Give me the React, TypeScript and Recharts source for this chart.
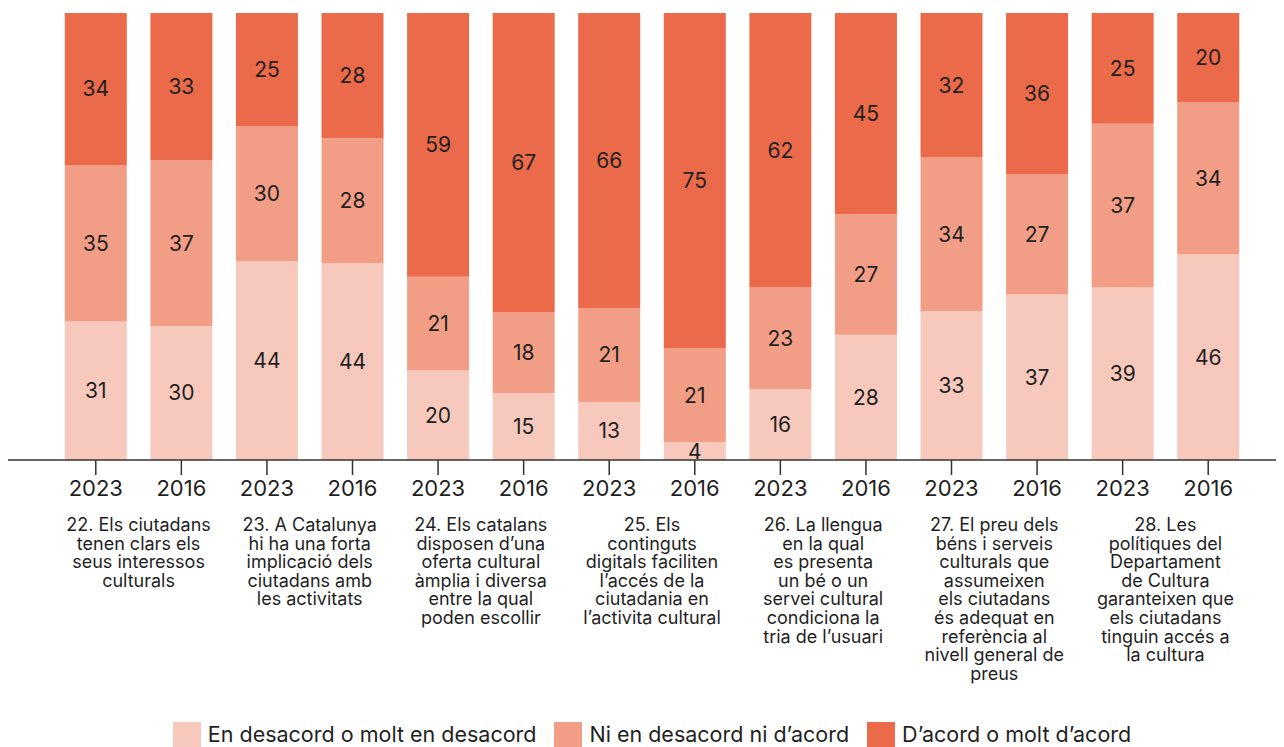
import React from "react";
import { BarChart, Bar, XAxis, YAxis, LabelList, Legend } from "recharts";

const years = ["2023", "2016", "2023", "2016", "2023", "2016", "2023", "2016", "2023", "2016", "2023", "2016", "2023", "2016"];
const desacord = [31, 30, 44, 44, 20, 15, 13, 4, 16, 28, 33, 37, 39, 46];
const neutral = [35, 37, 30, 28, 21, 18, 21, 21, 23, 27, 34, 27, 37, 34];
const acord = [34, 33, 25, 28, 59, 67, 66, 75, 62, 45, 32, 36, 25, 20];

const groupLabels = [
  ["22. Els ciutadans", "tenen clars els", "seus interessos", "culturals"],
  ["23. A Catalunya", "hi ha una forta", "implicació dels", "ciutadans amb", "les activitats"],
  ["24. Els catalans", "disposen d’una", "oferta cultural", "àmplia i diversa", "entre la qual", "poden escollir"],
  ["25. Els", "continguts", "digitals faciliten", "l’accés de la", "ciutadania en", "l’activita cultural"],
  ["26. La llengua", "en la qual", "es presenta", "un bé o un", "servei cultural", "condiciona la", "tria de l’usuari"],
  ["27. El preu dels", "béns i serveis", "culturals que", "assumeixen", "els ciutadans", "és adequat en", "referència al", "nivell general de", "preus"],
  ["28. Les", "polítiques del", "Departament", "de Cultura", "garanteixen que", "els ciutadans", "tinguin accés a", "la cultura"],
];
const groupTicks = [1, 3, 5, 7, 9, 11, 13];

const seriesNames = ["En desacord o molt en desacord", "Ni en desacord ni d’acord", "D’acord o molt d’acord"];
const colors = ["#f7c9bc", "#f29d86", "#ea6a4a"];

const data = years.map((y, i) => ({
  key: `${i}-${y}`,
  year: y,
  idx: i,
  desacord: desacord[i],
  neutral: neutral[i],
  acord: acord[i],
}));

const FONT = "Inter, 'Noto Sans', sans-serif";
const TEXT = "#1f1f1f";

const YearTick = (props: any) => {
  const { x, y, payload } = props;
  return (
    <text x={x} y={y + 19} textAnchor="middle" fontSize={22} fill={TEXT} fontFamily={FONT}>
      {years[payload.index] ?? payload.value}
    </text>
  );
};

const GroupTick = (props: any) => {
  const { x, y, payload } = props;
  const gi = groupTicks.indexOf(payload.value);
  const lines = groupLabels[gi] || [];
  return (
    <text x={x} y={y} textAnchor="middle" fontSize={18} fill={TEXT} fontFamily={FONT}>
      {lines.map((l, k) => (
        <tspan key={k} x={x} y={y + 18 + k * 18.6}>
          {l}
        </tspan>
      ))}
    </text>
  );
};

const LegendContent = () => (
  <div
    style={{
      display: "flex",
      justifyContent: "center",
      alignItems: "flex-end",
      height: 30,
      fontFamily: FONT,
      fontSize: 21.5,
      color: TEXT,
      paddingLeft: 30,
    }}
  >
    {seriesNames.map((n, i) => (
      <span key={n} style={{ display: "inline-flex", alignItems: "center", marginRight: 18 }}>
        <span style={{ width: 28, height: 25, background: colors[i], marginRight: 7, display: "inline-block" }} />
        {n}
      </span>
    ))}
  </div>
);

const valueLabel = { fill: TEXT, fontSize: 21, fontFamily: FONT };

export default function App() {
  return (
    <div style={{ width: 1276, height: 739 }}>
      <BarChart
        width={1276}
        height={739}
        data={data}
        stackOffset="expand"
        barCategoryGap={11.8}
        margin={{ top: 5, right: 0, bottom: 0, left: 0 }}
      >
        <XAxis
          dataKey="key"
          height={45}
          padding={{ left: 45, right: 33 }}
          axisLine={{ stroke: "#333", strokeWidth: 1.5 }}
          tickLine={{ stroke: "#333", strokeWidth: 1.5 }}
          tickSize={15}
          tick={<YearTick />}
          interval={0}
        />
        <XAxis
          xAxisId="g"
          dataKey="idx"
          type="number"
          domain={[0, 14]}
          allowDataOverflow
          ticks={groupTicks}
          interval={0}
          height={212}
          padding={{ left: 45, right: 33 }}
          axisLine={false}
          tickLine={false}
          tick={<GroupTick />}
        />
        <YAxis hide domain={[0, 1]} />
        <Legend verticalAlign="bottom" height={30} content={<LegendContent />} />
        <Bar dataKey="desacord" stackId="s" fill={colors[0]} isAnimationActive={false} name={seriesNames[0]}>
          <LabelList dataKey="desacord" position="center" style={valueLabel} />
        </Bar>
        <Bar dataKey="neutral" stackId="s" fill={colors[1]} isAnimationActive={false} name={seriesNames[1]}>
          <LabelList dataKey="neutral" position="center" style={valueLabel} />
        </Bar>
        <Bar dataKey="acord" stackId="s" fill={colors[2]} isAnimationActive={false} name={seriesNames[2]}>
          <LabelList dataKey="acord" position="center" style={valueLabel} />
        </Bar>
      </BarChart>
    </div>
  );
}
